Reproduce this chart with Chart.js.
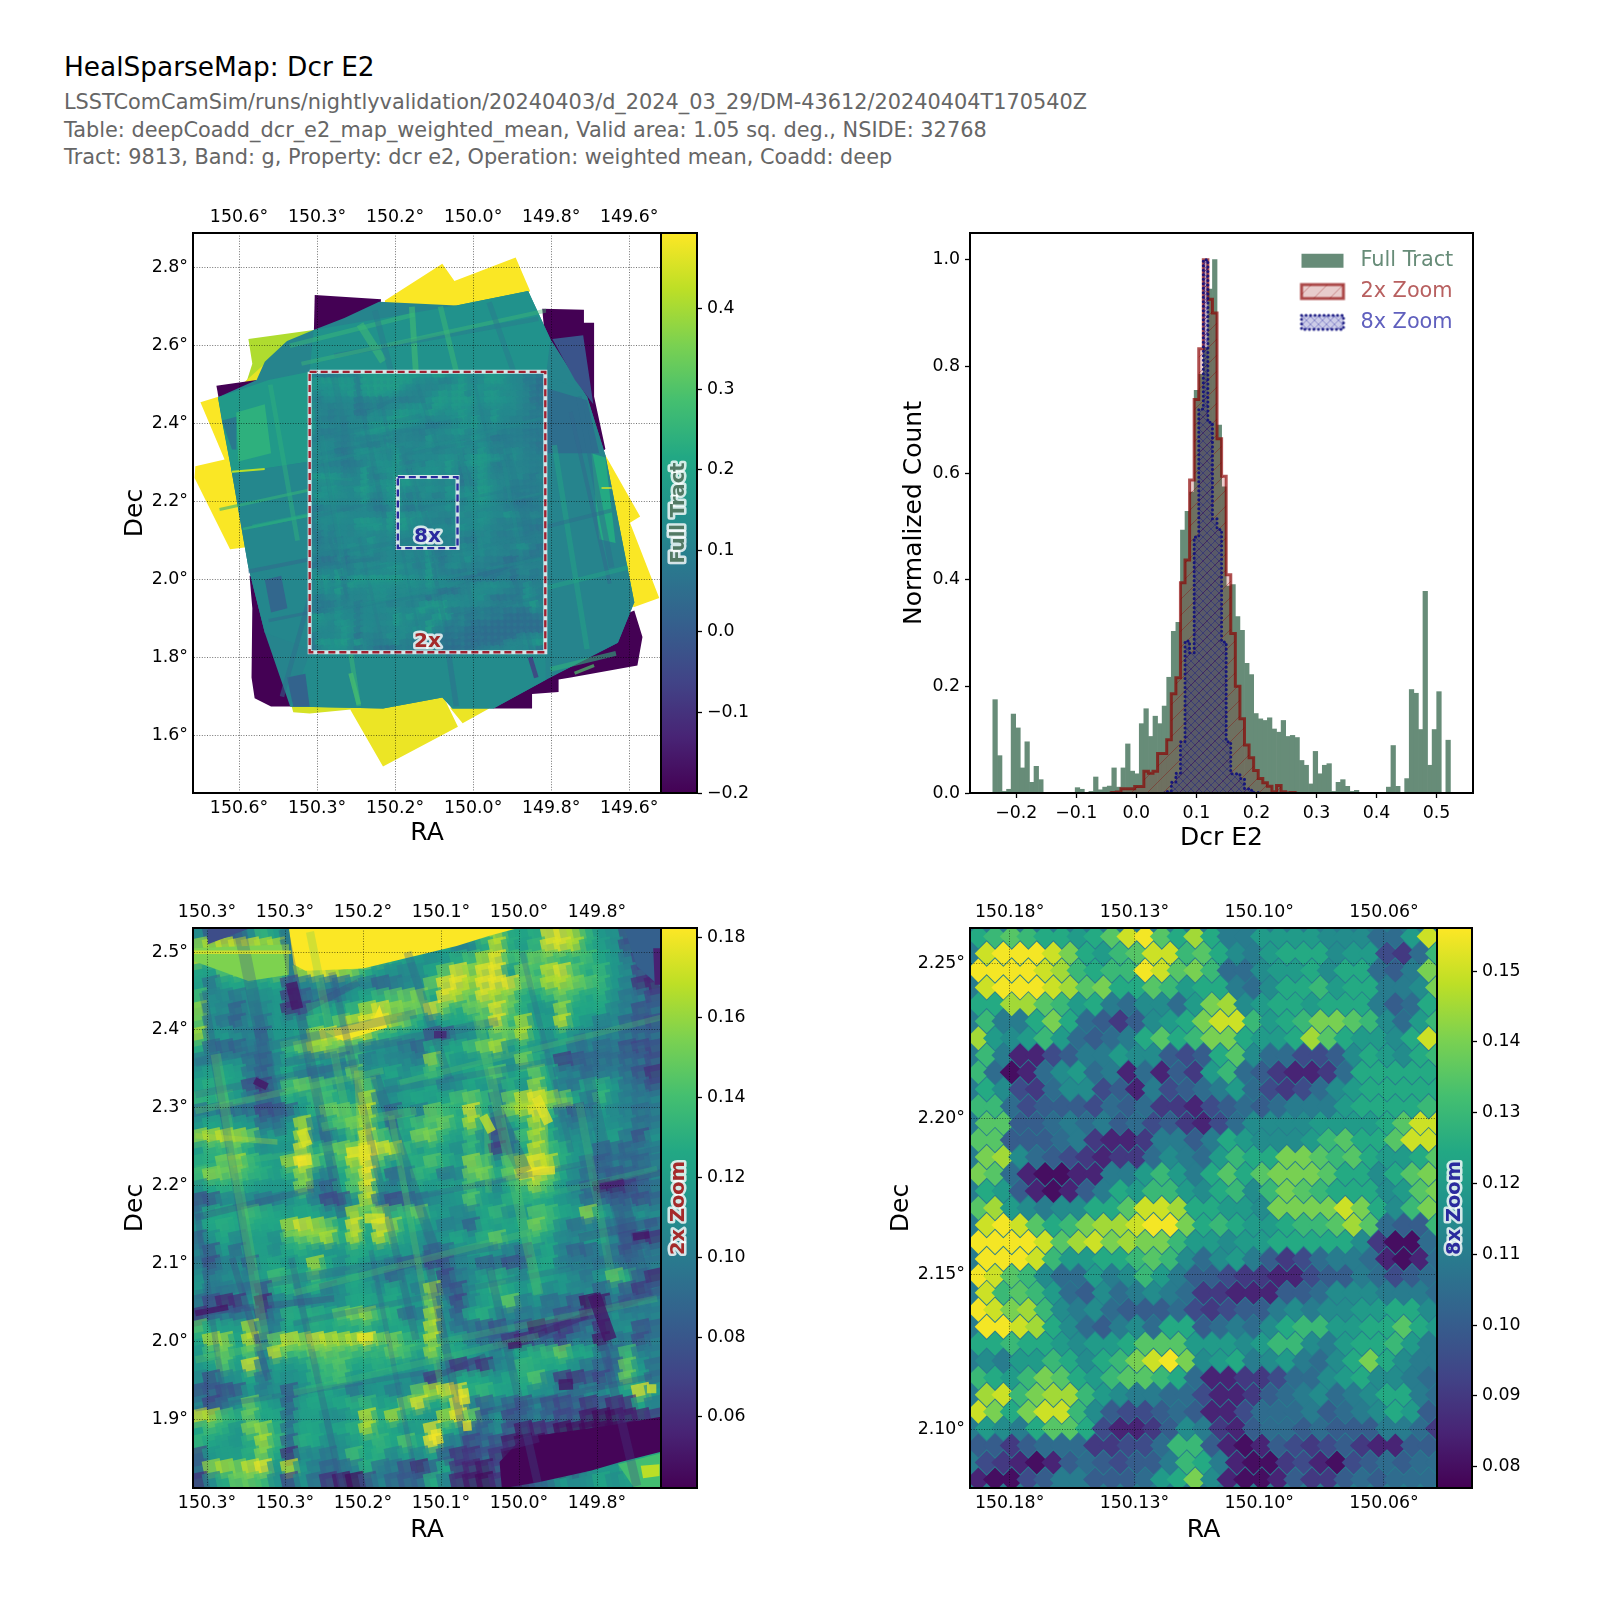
<!DOCTYPE html>
<html><head><meta charset="utf-8">
<script src="https://cdn.jsdelivr.net/npm/chart.js@4"></script>
<style>
html,body{margin:0;padding:0;background:#fff;width:1600px;height:1600px;overflow:hidden;font-family:"DejaVu Sans"}
canvas{position:absolute}
.t{position:absolute;left:64px;white-space:nowrap;line-height:28px;height:28px}
</style></head><body>
<div class="t" style="top:53px;font-size:26.4px;color:#000">HealSparseMap: Dcr E2</div>
<div class="t" style="top:88px;font-size:20.83px;color:#666">LSSTComCamSim/runs/nightlyvalidation/20240403/d_2024_03_29/DM-43612/20240404T170540Z</div>
<div class="t" style="top:115.5px;font-size:20.83px;color:#666">Table: deepCoadd_dcr_e2_map_weighted_mean, Valid area: 1.05 sq. deg., NSIDE: 32768</div>
<div class="t" style="top:143px;font-size:20.83px;color:#666">Tract: 9813, Band: g, Property: dcr e2, Operation: weighted mean, Coadd: deep</div>
<script>
// ---------- tick positions and tick labels ----------
const fullRaTicks=[150.55,150.35,150.15,149.95,149.75,149.55];
const fullRaLabels=['150.6°','150.3°','150.2°','150.0°','149.8°','149.6°'];
const fullDecTicks=[1.6,1.8,2.0,2.2,2.4,2.6,2.8];
const fullDecLabels=['1.6°','1.8°','2.0°','2.2°','2.4°','2.6°','2.8°'];
const zoom2RaTicks=[150.35,150.25,150.15,150.05,149.95,149.85];
const zoom2RaLabels=['150.3°','150.3°','150.2°','150.1°','150.0°','149.8°'];
const zoom2DecTicks=[1.9,2.0,2.1,2.2,2.3,2.4,2.5];
const zoom2DecLabels=['1.9°','2.0°','2.1°','2.2°','2.3°','2.4°','2.5°'];
const zoom8RaTicks=[150.175,150.135,150.095,150.055];
const zoom8RaLabels=['150.18°','150.13°','150.10°','150.06°'];
const zoom8DecTicks=[2.10,2.15,2.20,2.25];
const zoom8DecLabels=['2.10°','2.15°','2.20°','2.25°'];
const fullCbTicks=[-0.2,-0.1,0,0.1,0.2,0.3,0.4];
const zoom2CbTicks=[0.06,0.08,0.10,0.12,0.14,0.16,0.18];
const zoom8CbTicks=[0.08,0.09,0.10,0.11,0.12,0.13,0.14,0.15];
const histXTicks=[-0.2,-0.1,0,0.1,0.2,0.3,0.4,0.5];
const histYTicks=[0,0.2,0.4,0.6,0.8,1.0];
const histLabels=['Full Tract','2x Zoom','8x Zoom'];
// ---------- histogram series (100 bins) ----------
const binStart=-0.239, binWidth=0.00762;
const histFull=[.175,.07,.003,.007,.148,.122,.047,.096,.02,.05,.025,0,0,0,0,0,0,0,.01,.007,.001,.003,.03,.006,.011,.013,.047,.011,.047,.092,.041,.036,.13,.158,.106,.144,.13,.163,.217,.303,.32,.493,.528,.564,.755,.785,.835,.945,1,.69,.574,.388,.391,.331,.305,.243,.222,.149,.139,.136,.141,.12,.114,.136,.106,.108,.104,.061,.052,.017,.078,.036,.052,.055,.003,.02,.025,.0125,.003,.005,.001,.001,0,0,0,0,.011,.089,.0125,0,.027,.194,.187,.119,.378,.052,.119,.19,0,.099];
const hist2xFirstBin=25;
const hist2x=[0,.001,.002,.008,.008,.008,.012,.012,.041,.037,.041,.074,.074,.10,.186,.216,.394,.437,.587,.738,.833,1,.926,.9,.664,.594,.409,.299,.2,.139,.09,.066,.042,.027,.019,.0125,.0025,.014,.0025,0,.001,0];
const hist8xFirstBin=37;
const hist8x=[0,.003,.02,.037,.096,.285,.263,.48,.72,1,.695,.514,.494,.283,.096,.036,.036,.027,.008,.005,.001,0];
// ---------- full tract map: outlines [value, ra,dec, ra,dec, ...] ----------
const fullOuter=[
[.49,150.176,2.716,150.029,2.810,149.998,2.766,149.841,2.826,149.804,2.740,149.930,2.62,150.176,2.62],
[.41,150.526,2.617,150.359,2.640,150.30,2.60,150.427,2.50,150.484,2.45,150.531,2.507,150.516,2.554],
[.47,150.484,2.554,150.427,2.575,150.40,2.50,150.536,2.507],
[.49,150.649,2.455,150.601,2.470,150.50,2.40,150.45,2.10,150.531,2.083,150.573,2.078,150.664,2.261,150.662,2.291,150.587,2.308],
[.49,149.611,2.319,149.522,2.162,149.548,2.146,149.473,1.953,149.537,1.930,149.60,1.95,149.70,2.30],
[.475,150.270,1.686,150.27,1.75,150.02,1.75,150.024,1.696,149.989,1.623,150.181,1.521,150.264,1.665],
[.475,150.008,1.670,150.0,1.72,149.909,1.72,149.909,1.670,149.977,1.632],
[.45,150.416,1.678,150.41,1.72,150.264,1.72,150.264,1.667,150.369,1.657,150.411,1.660],
[-.2,150.356,2.730,150.186,2.719,150.2,2.6,150.359,2.60],
[-.2,149.773,2.695,149.666,2.692,149.666,2.659,149.640,2.659,149.640,2.470,149.611,2.335,149.65,2.30,149.75,2.45],
[-.2,150.608,2.497,150.505,2.512,150.50,2.42,150.594,2.42],
[-.2,149.600,1.895,149.537,1.921,149.516,1.853,149.529,1.780,149.700,1.749,149.731,1.744,149.731,1.712,149.799,1.707,149.799,1.670,149.898,1.670,149.90,1.75,149.70,1.87],
[-.2,150.523,2.010,150.516,1.927,150.518,1.749,150.510,1.696,150.468,1.675,150.38,1.675,150.38,1.80,150.45,2.0]
];
const fullInner=[
[.11,150.604,2.468,150.505,2.512,150.484,2.559,150.427,2.612,150.359,2.640,150.280,2.671,150.191,2.713,149.993,2.703,149.809,2.740,149.788,2.695,149.752,2.617,149.658,2.470,149.611,2.319,149.537,1.942,149.579,1.838,149.762,1.744,149.898,1.670,150.003,1.670,150.029,1.698,150.181,1.670,150.419,1.675,150.484,1.864,150.526,2.031,150.568,2.272,150.594,2.408],
[.17,150.604,2.468,150.474,2.512,150.369,2.533,150.369,2.303,150.568,2.272],
[.24,150.557,2.429,150.484,2.450,150.468,2.324,150.552,2.303],
[.08,150.594,2.408,150.557,2.418,150.557,2.334,150.568,2.334],
[.12,150.568,2.272,150.369,2.303,150.369,1.822,150.484,1.864,150.526,2.031],
[.15,150.359,2.640,149.993,2.703,149.809,2.740,149.752,2.617,149.762,2.533,150.369,2.533],
[.13,150.419,1.675,150.369,1.811,149.764,1.811,149.762,1.744,149.898,1.670,150.003,1.670,150.029,1.698,150.181,1.670],
[.11,149.764,2.533,149.658,2.470,149.611,2.319,149.537,1.942,149.579,1.838,149.764,1.744],
[.05,149.762,2.491,149.658,2.460,149.627,2.324,149.762,2.324],
[-.02,149.747,2.617,149.668,2.627,149.642,2.450,149.689,2.512],
[.03,150.484,2.000,150.442,2.010,150.426,1.927,150.468,1.916],
[.02,150.427,1.749,150.380,1.759,150.369,1.675,150.411,1.675],
[.22,149.647,2.324,149.611,2.313,149.585,2.094,149.627,2.104]
];
// full tract streaks beyond the 2x box: [ra0,dec0,ra1,dec1,width,value,alpha]
const fullStreaks=[
[150.568,2.277,150.484,2.284,.005,.42,1],[149.621,2.235,149.595,2.235,.004,.45,1],[149.804,1.801,149.788,1.749,.012,-.08,.8],
[150.107,2.700,150.097,2.533,.015,.28,.6],[150.240,2.655,150.180,2.560,.02,.28,.5],[150.264,1.760,150.243,1.680,.012,.3,.7],
[149.690,1.760,149.640,1.780,.008,.3,.7],[150.420,2.600,150.100,2.680,.012,.26,.5],[150.600,2.180,150.370,2.230,.008,.25,.6],
[150.540,2.130,150.370,2.165,.007,.25,.6],[150.470,2.500,150.400,2.100,.012,.24,.5],[149.700,2.430,149.600,1.990,.01,.03,.5],
[150.440,1.700,150.370,1.950,.012,.05,.5],[150.306,2.575,149.783,2.669,.012,.08,.5],[150.390,2.554,149.762,2.690,.0105,.28,.4],
[150.202,2.690,150.160,2.533,.015,.08,.5],[150.034,2.701,149.993,2.533,.014,.27,.5],[149.909,2.711,149.846,2.533,.014,.08,.5],
[150.264,1.811,150.243,1.676,.012,.27,.5],[150.013,1.811,149.993,1.676,.014,.05,.5],[149.679,2.470,149.595,2.031,.014,.05,.5],
[149.742,2.345,149.658,1.822,.014,.2,.5],[149.762,1.979,149.553,2.031,.012,.2,.5],[149.762,2.136,149.595,2.178,.01,.05,.5],
[149.752,1.770,149.584,1.811,.012,.24,.6],[150.516,2.136,150.369,2.167,.01,.22,.5],[150.526,2.021,150.369,2.052,.01,.03,.5],
[150.474,1.895,150.369,1.916,.008,.03,.5]
];
// ---------- 2x zoom map ----------
const base2x=[.118,150.368,2.531,149.768,2.531,149.768,1.811,150.368,1.811];
const patches2x=[
[.075,150.349,2.531,150.294,2.531,150.349,2.510],
[.155,150.368,2.505,150.245,2.510,150.245,2.471,150.297,2.463,150.368,2.489],
[.182,150.245,2.531,149.951,2.531,149.988,2.521,150.030,2.508,150.150,2.479,150.224,2.476,150.239,2.484],
[.085,149.815,2.531,149.768,2.531,149.768,2.455,149.799,2.482],
[.055,149.778,2.505,149.768,2.505,149.768,2.458,149.776,2.458],
[.18,150.199,2.398,150.137,2.413,150.129,2.432,150.119,2.403,150.176,2.386],
[.14,149.823,1.842,149.768,1.856,149.768,1.811,149.802,1.811],
[.168,149.794,1.840,149.770,1.842,149.770,1.827,149.791,1.824],
[.044,149.975,1.845,149.946,1.876,149.831,1.892,149.768,1.903,149.768,1.858,149.820,1.845,149.857,1.834,149.925,1.819,149.972,1.811]
];
// rows from the top, values in units of 0.001
const grid2x=[
[105,80,80,80,105,135,120,110,182,182,182,182,182,182,182,178,170,150,150,180,178,130,150,165,130,125,130,178,178,165,135,115,110,75,85,60],
[160,165,170,170,172,165,165,110,182,178,182,182,182,182,178,170,125,130,115,125,100,105,130,170,130,120,135,175,175,165,130,120,110,75,80,50],
[172,150,150,150,160,165,160,115,178,182,182,182,182,182,150,125,120,115,110,115,130,140,165,178,140,140,150,150,140,135,140,125,115,95,70,50],
[125,120,145,150,150,150,170,115,165,178,178,165,155,130,115,110,105,110,125,150,178,160,178,178,120,150,140,170,175,145,130,135,115,105,70,65],
[120,95,120,125,125,120,125,75,100,105,100,95,110,100,85,95,105,110,150,178,178,165,178,178,178,150,145,165,165,155,145,135,115,100,60,55],
[140,105,105,95,110,110,115,65,80,95,85,100,115,125,135,145,150,155,125,178,165,150,175,165,155,130,125,135,150,135,125,130,110,95,95,70],
[160,110,105,85,105,105,115,60,70,130,120,125,135,165,175,160,155,150,178,150,130,150,150,175,150,130,115,115,160,125,125,125,105,100,75,85],
[150,105,95,85,105,95,115,110,115,135,125,150,170,178,178,165,150,125,110,120,125,125,145,175,140,165,120,120,170,125,115,100,105,85,80,75],
[165,110,115,105,100,85,115,115,120,160,178,178,175,170,135,130,120,115,75,75,105,110,120,150,150,165,125,110,125,110,105,100,100,90,85,85],
[130,90,85,85,100,95,115,135,150,165,160,150,140,115,110,105,95,85,125,120,125,140,155,165,115,130,115,105,115,95,100,90,95,75,70,70],
[100,105,110,110,90,85,100,120,115,125,110,100,135,100,110,105,105,100,160,130,115,115,120,115,110,155,130,115,65,75,85,90,90,85,85,75],
[115,120,125,120,95,85,110,125,105,100,95,110,150,110,115,125,110,120,135,120,115,125,130,145,120,125,150,125,100,100,90,95,100,90,75,60],
[125,130,125,120,70,60,100,140,150,140,135,110,115,145,120,105,120,115,125,100,110,125,115,105,130,115,160,125,100,95,125,130,115,95,90,75],
[135,130,135,115,100,80,95,130,120,135,140,125,120,165,105,110,120,125,120,125,140,150,135,100,150,170,178,165,150,125,100,135,110,100,95,100],
[95,100,95,90,90,70,75,85,115,130,150,150,145,170,110,85,115,100,150,140,130,175,130,105,155,165,178,135,95,80,95,115,105,100,90,95],
[115,125,120,120,115,90,100,115,165,105,125,140,155,165,120,90,130,140,145,150,130,165,125,85,120,130,165,125,105,95,105,115,110,105,90,95],
[160,165,170,165,150,110,120,120,165,105,95,115,130,175,145,130,120,155,155,130,120,135,110,70,105,140,165,130,110,110,105,115,120,95,75,110],
[120,135,135,145,125,110,115,115,175,125,135,155,165,178,175,170,135,120,130,120,110,135,115,65,100,125,170,140,130,115,110,85,90,85,95,100],
[130,130,155,165,140,125,120,165,182,150,125,140,170,182,145,115,125,130,145,130,120,160,145,115,145,165,178,170,130,115,95,80,95,90,85,95],
[140,160,150,150,135,130,120,130,160,110,100,125,150,182,125,85,105,135,125,95,105,150,155,130,150,178,178,155,125,105,90,85,80,85,90,100],
[110,125,130,130,120,115,115,115,155,95,85,125,145,178,120,100,110,120,115,120,120,140,120,105,125,140,160,140,115,100,85,55,45,65,80,90],
[75,80,105,110,105,95,100,110,120,100,70,75,110,170,95,70,85,100,105,110,115,145,120,115,130,130,130,125,115,110,90,85,85,85,75,85],
[100,125,125,125,140,130,125,120,125,125,110,115,165,145,160,135,135,150,120,115,105,105,125,135,110,115,145,140,125,120,160,120,110,100,110,105],
[110,125,130,125,130,125,125,165,175,165,150,125,175,130,178,160,125,125,115,100,105,85,125,120,125,125,155,135,110,90,100,100,95,90,100,85],
[85,110,125,105,120,120,110,140,150,155,165,130,165,125,170,140,120,110,105,115,125,115,130,150,120,120,135,120,105,105,115,115,100,75,65,60],
[100,80,115,90,120,120,110,125,130,120,115,115,130,125,120,120,115,110,85,90,110,115,120,110,100,90,110,125,100,85,85,100,90,75,95,95],
[95,75,100,105,85,120,125,115,120,165,125,110,125,115,110,100,85,90,75,75,100,105,85,90,75,85,120,125,100,100,100,95,95,90,100,95],
[110,95,105,110,100,120,140,130,125,140,115,110,125,110,100,85,110,110,125,70,95,105,120,130,120,110,125,120,115,105,95,115,150,130,90,55],
[115,100,100,105,95,75,125,130,110,125,95,110,125,120,110,125,115,100,165,85,75,110,125,135,125,115,125,105,115,105,105,85,105,80,60,85],
[90,70,55,60,110,55,100,110,100,105,110,110,125,125,120,125,115,115,155,105,70,105,120,125,150,100,110,90,95,80,45,50,95,80,95,100],
[60,85,95,90,100,70,100,130,125,130,125,145,155,160,135,130,90,100,165,105,85,125,130,110,100,95,100,95,75,85,60,85,110,100,100,100],
[145,125,120,120,165,100,100,125,115,130,125,130,130,135,120,125,125,120,170,110,95,90,85,75,95,80,50,60,60,70,95,60,105,110,75,85],
[125,165,160,125,170,90,150,172,160,175,170,165,170,178,150,155,135,130,170,115,120,100,90,85,60,55,80,85,70,100,95,50,95,95,75,95],
[115,135,150,125,145,105,172,140,140,150,150,145,140,135,130,150,140,120,160,130,125,115,110,100,115,125,130,135,150,125,125,100,90,140,100,100],
[115,120,145,120,175,100,120,115,120,135,140,145,125,125,130,125,120,110,120,100,60,75,60,100,110,135,130,125,125,110,95,85,85,150,115,90],
[105,75,105,110,125,95,115,110,115,130,135,140,115,120,115,115,110,100,65,105,125,125,125,115,125,130,145,105,65,60,75,70,100,150,120,90],
[75,80,75,80,115,100,110,80,110,125,125,115,95,110,115,100,110,150,165,178,178,130,135,125,120,125,110,110,100,95,105,100,115,120,178,115],
[100,70,90,110,150,125,115,85,120,125,120,125,130,135,120,125,150,178,125,125,178,100,85,100,85,75,100,75,70,80,60,75,55,60,125,100],
[175,165,140,130,150,125,125,90,120,120,110,110,120,170,130,165,130,120,115,165,178,150,85,110,70,85,95,85,70,75,50,45,45,50,55,65],
[125,140,130,115,155,160,130,95,125,125,115,125,130,165,130,125,115,120,178,130,120,85,85,105,75,50,55,60,45,45,45,45,45,45,45,45],
[135,125,120,115,130,165,135,85,130,125,110,110,120,125,135,125,145,125,182,100,100,70,85,75,50,45,45,45,45,45,45,45,45,45,45,45],
[75,115,120,120,130,155,125,60,105,105,95,110,140,125,130,105,120,105,120,85,60,60,80,60,45,45,45,45,45,45,45,50,100,115,125,130],
[85,160,165,155,172,178,115,170,115,100,85,90,100,130,95,95,75,55,85,125,60,55,50,70,45,45,45,55,45,60,110,115,115,130,155,172],
[60,105,130,150,150,140,110,70,110,90,60,50,45,75,100,85,80,85,130,100,55,50,45,60,50,60,85,90,115,105,110,125,110,120,115,60]
];
const darkBands2x=[
[150.3075,2.526,150.255,2.264,.016,.08],[150.252,2.529,150.177,2.159,.013,.075],[150.190,2.474,150.082,2.002,.0095,.08],
[150.355,2.448,150.297,2.107,.0105,.08],[150.135,2.343,150.035,2.049,.013,.08],[150.093,2.500,150.040,2.337,.0105,.085],
[149.980,2.296,149.943,2.217,.02,.075],[149.873,2.395,149.815,2.128,.015,.085],[150.069,2.117,150.014,1.845,.0105,.07],
[149.857,2.060,149.799,1.814,.0115,.07],[149.825,2.201,149.789,2.055,.024,.075],[150.318,2.107,150.271,1.950,.0085,.07],
[149.946,2.500,149.883,2.243,.0075,.09],[150.365,2.180,150.328,1.924,.0075,.08],[149.988,2.096,149.925,1.813,.0105,.08],
[150.242,2.107,150.177,1.811,.0085,.08],[150.140,2.117,150.082,1.824,.0065,.085],
[150.365,2.358,150.082,2.421,.0115,.085],[150.224,2.427,150.156,2.461,.0095,.07],[150.250,2.358,149.977,2.411,.0115,.085],
[150.365,2.317,150.156,2.358,.0095,.085],[150.124,2.322,149.768,2.385,.0085,.09],[150.365,2.159,150.213,2.196,.0085,.075],
[150.135,2.175,149.768,2.248,.0075,.085],[150.365,2.060,149.977,2.123,.0115,.085],[150.365,2.036,150.187,2.055,.0085,.07],
[150.239,2.023,149.768,2.117,.0075,.09],[150.069,1.950,149.993,1.981,.0075,.06],[149.977,1.994,149.768,2.065,.0105,.07],
[150.0,1.908,149.78,1.955,.0075,.075],[150.365,1.913,150.072,1.960,.0065,.085],[149.873,2.133,149.773,2.154,.0115,.07],
[149.93,2.007,149.862,2.034,.0085,.05],[149.846,2.199,149.768,2.217,.0085,.065],[150.046,1.845,149.925,1.876,.0115,.07]
];
const brightBands2x=[
[150.156,2.348,150.148,2.201,.0115,.17],[150.229,2.290,150.218,2.196,.0105,.165],[149.920,2.327,149.917,2.217,.0115,.172],
[149.991,2.293,149.989,2.191,.0085,.15],[150.162,2.167,150.156,2.128,.0115,.172],[150.218,2.526,150.145,2.159,.0105,.15],
[150.339,2.369,150.276,2.002,.013,.15],[150.114,2.290,150.040,1.887,.0085,.15],[150.004,2.421,149.925,2.060,.013,.15],
[149.873,2.306,149.831,2.081,.0105,.14],[150.365,2.296,150.124,2.348,.0085,.15],[150.103,2.332,149.768,2.416,.0075,.145],
[150.365,2.264,150.260,2.256,.007,.17],[150.252,2.137,150.182,2.144,.0075,.165],[150.239,2.062,149.925,2.143,.0085,.145],
[150.255,1.992,150.124,2.005,.0115,.16],[150.365,1.976,150.260,1.997,.0095,.15],[150.093,1.926,150.030,1.933,.0095,.165],
[149.962,2.302,149.881,2.308,.0115,.165],[150.365,2.222,150.156,2.254,.0075,.14],[150.140,1.981,149.773,2.055,.0085,.14],
[150.239,1.934,149.925,2.007,.0085,.14],[149.951,2.180,149.773,2.222,.0075,.135],[150.203,2.275,150.082,2.296,.0115,.15]
];
const spots2x=[
[150.242,2.461,150.234,2.427,.015,.05],[150.289,2.335,150.273,2.327,.0095,.05],[150.059,2.394,150.043,2.394,.0095,.055],
[149.854,2.060,149.833,2.002,.017,.05],[149.804,2.134,149.783,2.137,.0095,.05],[149.846,2.199,149.815,2.204,.0085,.055],
[149.964,1.994,149.947,1.996,.0085,.05],[149.899,1.944,149.881,1.945,.014,.05],[150.323,2.044,150.365,2.036,.0075,.05],
[150.171,2.242,150.140,2.246,.0135,.178],[150.234,2.231,150.216,2.233,.0125,.18],[150.229,2.272,150.221,2.251,.0135,.175],
[149.928,2.314,149.912,2.280,.0125,.178],[149.933,2.218,149.904,2.220,.0105,.18],[149.996,2.290,149.985,2.269,.0115,.172],
[150.148,2.158,150.122,2.158,.0125,.175],[150.158,2.005,150.137,2.006,.0105,.178],[150.022,1.939,150.019,1.919,.0135,.178],
[150.022,1.891,150.011,1.892,.0135,.178],[150.057,1.887,150.053,1.868,.0135,.18],[149.786,1.939,149.774,1.939,.0115,.175],
[150.368,2.500,150.242,2.500,.0045,.178]
];
// ---------- 8x zoom map: rows from top, values in units of 0.001 ----------
const grid8x=[
[125,130,135,130,125,125,120,125,135,150,155,135,125,145,125,110,110,120,120,120,120,115,115,115,105,105,120,150],
[150,155,155,155,150,140,125,120,130,135,150,150,130,135,125,115,110,120,125,125,125,115,120,120,95,90,105,130],
[155,155,155,155,150,145,130,125,130,130,155,150,135,140,130,105,105,115,120,120,125,115,125,125,105,100,110,140],
[150,155,155,155,150,145,135,140,125,125,135,130,120,125,125,110,105,115,125,125,130,120,125,125,110,110,115,140],
[125,125,145,145,135,130,120,125,110,105,115,115,105,120,140,145,115,120,125,125,120,125,125,125,110,100,105,125],
[130,110,110,125,140,125,105,100,90,100,115,120,125,140,150,150,130,120,125,130,140,140,135,130,115,105,120,130],
[145,120,115,120,130,120,105,100,105,110,125,135,125,130,140,140,125,120,120,125,145,135,125,120,120,115,125,150],
[130,110,85,85,95,100,110,110,120,115,115,100,95,100,125,135,115,105,105,95,95,100,115,125,120,115,125,130],
[130,105,80,85,105,115,120,105,110,85,105,85,100,90,120,130,105,100,90,85,85,90,105,125,125,125,125,125],
[125,115,95,90,105,115,115,95,100,85,110,95,100,105,110,120,105,95,90,95,105,115,120,125,125,125,125,125],
[130,130,105,95,100,100,100,95,105,100,105,90,90,85,95,100,105,100,105,110,110,110,120,125,125,125,125,130],
[135,135,100,100,105,110,105,110,100,105,95,100,90,85,95,105,115,115,115,115,120,120,120,120,125,135,150,150],
[135,135,100,100,100,105,110,90,85,85,90,110,110,100,110,125,120,115,115,115,120,130,135,125,125,135,150,150],
[140,145,115,105,100,95,90,85,90,90,105,115,110,105,120,130,125,125,140,140,135,130,135,125,120,120,125,135],
[140,135,105,85,80,80,85,85,110,110,120,130,120,110,125,135,125,135,140,140,140,135,125,125,115,125,135,140],
[125,120,100,85,80,85,100,110,125,120,130,130,120,115,125,130,115,130,140,135,130,125,125,125,115,120,135,140],
[135,145,120,115,110,115,115,125,125,135,150,150,145,125,125,120,120,115,140,140,140,140,150,140,125,115,130,140],
[150,155,150,135,125,130,140,145,145,150,155,155,140,125,130,125,120,120,125,130,130,135,145,135,105,100,100,130],
[155,155,155,155,150,135,145,150,140,145,140,140,130,120,120,115,120,120,125,125,125,125,125,115,90,80,80,105],
[155,155,155,150,130,120,120,125,125,130,135,130,115,105,115,120,110,100,90,95,105,110,110,105,85,80,85,105],
[155,150,135,130,115,105,105,120,110,115,130,120,110,100,100,95,90,90,85,85,95,100,100,110,105,95,100,105],
[150,130,135,130,120,105,100,115,105,110,115,110,105,90,90,85,85,85,100,100,105,115,115,115,110,110,110,105],
[155,150,140,145,130,115,110,115,105,100,100,100,105,95,90,95,100,100,110,115,110,115,115,120,120,125,125,115],
[155,155,150,145,125,115,105,100,110,115,105,125,125,100,105,110,105,115,125,130,130,120,120,125,125,135,125,120],
[125,125,130,125,125,120,115,120,120,125,135,135,135,120,120,120,115,120,130,130,115,110,120,125,125,130,120,110],
[115,110,120,120,130,125,115,125,130,140,150,155,140,115,120,125,110,115,120,110,105,115,125,140,125,115,110,110],
[130,125,120,130,140,135,125,120,130,135,135,130,125,105,85,85,90,90,95,105,105,115,120,125,115,115,110,105],
[145,150,130,140,145,145,130,120,115,110,110,105,105,95,85,85,90,100,105,110,115,105,110,115,125,125,110,105],
[150,140,125,140,150,150,130,115,100,95,95,100,105,100,85,85,95,105,105,105,110,100,105,110,115,125,120,100],
[120,115,110,125,135,135,125,95,85,85,90,100,115,110,90,85,100,105,105,100,105,100,100,100,110,110,105,90],
[100,100,90,100,105,105,105,90,90,95,95,105,130,130,100,85,80,85,100,95,90,95,100,90,85,85,100,100],
[95,90,85,80,85,100,105,100,95,100,100,110,130,125,110,85,80,80,90,95,85,80,95,100,105,100,105,105],
[85,80,80,95,100,110,110,100,100,100,105,120,125,140,115,85,80,80,85,100,90,90,100,105,100,105,105,105]
];
// ---------- boxes shown on the full map ----------
const box2x=[150.369,2.533,149.765,2.533,149.765,1.814,150.369,1.814,150.369,2.533];
const box8x=[150.143,2.263,149.990,2.263,149.990,2.081,150.143,2.081,150.143,2.263];
// ---------- viridis ----------
const viridis=[[68,1,84],[72,36,117],[65,68,135],[53,95,141],[42,120,142],[33,145,140],[34,168,132],[68,191,112],[122,209,81],[189,223,38],[253,231,37]];

function cmap(v,lo,hi,a){
  let t=Math.max(0,Math.min(1,(v-lo)/(hi-lo)))*10,i=Math.min(9,Math.floor(t)),f=t-i;
  const c=viridis[i].map((q,k)=>Math.round(q+(viridis[i+1][k]-q)*f));
  return `rgba(${c[0]},${c[1]},${c[2]},${a===undefined?1:a})`;
}
Chart.defaults.font.family='"DejaVu Sans"';
Chart.defaults.font.size=17.36;
Chart.defaults.color='#000';
Chart.defaults.animation=false;
Chart.defaults.events=[];
Chart.defaults.plugins.tooltip.enabled=false;
Chart.defaults.plugins.legend.display=false;
Chart.defaults.layout.autoPadding=false;

const TICK={size:17.36}, LABEL={size:25};
function mk(L,T,W,H){const c=document.createElement('canvas');c.width=W;c.height=H;c.style.left=L+'px';c.style.top=T+'px';document.body.appendChild(c);return c;}
function pad(n,axis){return s=>{if(axis==='h')s.height=n;else s.width=n;s.paddingLeft=s.paddingRight=s.paddingTop=s.paddingBottom=0;};}
function polyDs(v,xy,lo,hi,a,i){
  const data=[];for(let k=0;k<xy.length;k+=2)data.push({x:xy[k],y:xy[k+1]});data.push(data[0]);
  return {type:'scatter',showLine:true,fill:'shape',data,backgroundColor:cmap(v,lo,hi,a),borderWidth:0,borderColor:'transparent',pointRadius:0,order:-i};
}
function bandPoly(b){
  const [a0,d0,a1,d1,w]=b;const dx=a1-a0,dy=d1-d0,l=Math.hypot(dx,dy)||1,nx=-dy/l*w/2,ny=dx/l*w/2;
  return [a0+nx,d0+ny,a1+nx,d1+ny,a1-nx,d1-ny,a0-nx,d0-ny];
}
function addPatches(out,list,lo,hi){list.forEach(p=>out.push(polyDs(p[0],p.slice(1),lo,hi,1,out.length)));}
function addBands(out,list,lo,hi,alpha){list.forEach(b=>out.push(polyDs(b[5],bandPoly(b),lo,hi,alpha===undefined?b[6]:alpha,out.length)));}
function addGrid2x(out,lo,hi,radius,alpha){
  const xmin=149.768,xmax=150.368,ymin=1.8115,ymax=2.531,rows=grid2x.length,cols=grid2x[0].length,pts=[],colors=[];
  grid2x.forEach((r,j)=>r.forEach((v,i)=>{pts.push({x:xmax-(xmax-xmin)*(i+.5)/cols,y:ymax-(ymax-ymin)*(j+.5)/rows});colors.push(cmap(v/1000,lo,hi,alpha));}));
  out.push({type:'scatter',data:pts,pointStyle:'rect',pointRotation:-12,pointRadius:radius,pointBorderWidth:0,pointBackgroundColor:colors,showLine:false,order:-out.length});
}
function mapScales(o){
  const gridOn={z:1,color:'rgba(0,0,0,.55)',lineWidth:1,drawTicks:false};
  const bord={display:true,width:2,color:'#000',z:2,dash:[1,1.6]};
  const tk=(lab)=>({callback:(v,i)=>lab[i],padding:5,autoSkip:false,maxRotation:0,minRotation:0,font:TICK,color:'#000'});
  return {
    x:{type:'linear',reverse:true,position:'bottom',min:o.xmin,max:o.xmax,afterBuildTicks:s=>{s.ticks=o.xt.map(v=>({value:v}));},ticks:tk(o.xl),grid:gridOn,border:bord,title:{display:true,text:'RA',font:LABEL,color:'#000',padding:0},afterFit:pad(o.padB,'h')},
    x2:{type:'linear',reverse:true,position:'top',min:o.xmin,max:o.xmax,afterBuildTicks:s=>{s.ticks=o.xt.map(v=>({value:v}));},ticks:tk(o.xl),grid:{display:false,drawTicks:false},border:{display:true,width:2,color:'#000',z:2},afterFit:pad(o.padT,'h')},
    y:{type:'linear',position:'left',min:o.ymin,max:o.ymax,afterBuildTicks:s=>{s.ticks=o.yt.map(v=>({value:v}));},ticks:tk(o.yl),grid:gridOn,border:bord,title:{display:true,text:'Dec',font:LABEL,color:'#000',padding:0},afterFit:pad(o.padL,'v')},
    y2:{type:'linear',position:'right',min:o.ymin,max:o.ymax,ticks:{display:false},grid:{display:false},border:{display:true,width:2,color:'#000',z:2},afterFit:pad(2,'v')}
  };
}
function boxDs(xy,color,i,dash,w){
  const data=[];for(let k=0;k<xy.length;k+=2)data.push({x:xy[k],y:xy[k+1]});
  return {type:'scatter',showLine:true,fill:false,data,borderColor:color,borderWidth:w,borderDash:dash,pointRadius:0,order:-i};
}
const outlineText=(text,x,y,font,color,rot,ctx)=>{
  ctx.save();ctx.translate(x,y);if(rot)ctx.rotate(rot);ctx.font=font;ctx.textAlign='center';ctx.textBaseline='middle';
  ctx.lineJoin='round';ctx.lineWidth=5;ctx.strokeStyle='rgba(255,255,255,.8)';ctx.strokeText(text,0,0);ctx.fillStyle=color;ctx.fillText(text,0,0);ctx.restore();
};
function colorbar(L,R,T,B,lo,hi,ticks,dec,text,color){
  const pt=12,W=R-L+70,c=mk(L-2,T-pt,W+2,B-T+2*pt);
  new Chart(c,{type:'bar',
    data:{labels:[''],datasets:[{data:[[lo,hi]],barPercentage:1,categoryPercentage:1,borderWidth:0,
      backgroundColor:ctx=>{const a=ctx.chart.chartArea;if(!a)return '#21918c';const g=ctx.chart.ctx.createLinearGradient(0,a.bottom,0,a.top);viridis.forEach((q,i)=>g.addColorStop(i/10,`rgb(${q})`));return g;}}]},
    options:{responsive:false,devicePixelRatio:1,
      scales:{
        x:{type:'category',position:'bottom',ticks:{display:false},grid:{display:false},border:{display:true,width:2,color:'#000',z:2},afterFit:pad(pt,'h')},
        x2:{type:'category',labels:[''],position:'top',ticks:{display:false},grid:{display:false},border:{display:true,width:2,color:'#000',z:2},afterFit:pad(pt,'h')},
        y2:{type:'linear',position:'left',min:lo,max:hi,ticks:{display:false},grid:{display:false},border:{display:true,width:2,color:'#000',z:2},afterFit:pad(2,'v')},
        y:{type:'linear',position:'right',min:lo,max:hi,afterBuildTicks:s=>{s.ticks=ticks.map(v=>({value:v}));},
           ticks:{callback:v=>v.toFixed(dec).replace('-','\u2212'),padding:5,font:TICK,color:'#000',autoSkip:false,maxRotation:0,minRotation:0},
           grid:{drawOnChartArea:false,drawTicks:true,tickLength:5,tickWidth:1.3,tickColor:'#000',color:'#000'},border:{display:true,width:2,color:'#000',z:2},afterFit:pad(W-(R-L),'v')}
      }},
    plugins:[{id:'cbText',afterDraw(ch){const a=ch.chartArea;outlineText(text,(a.left+a.right)/2,(a.top+a.bottom)/2,'bold 19.44px "DejaVu Sans"',color,-Math.PI/2,ch.ctx);}}]
  });
}

// ---------- panel 1: full tract ----------
(function(){
  const L=193,R=661,T=232.5,B=793,lo=-0.2,hi=0.4934,padL=73,padT=32,padB=55;
  const ds=[];
  addPatches(ds,fullOuter,lo,hi);addPatches(ds,fullInner,lo,hi);addBands(ds,fullStreaks,lo,hi);
  ds.push(polyDs(base2x[0],base2x.slice(1),lo,hi,1,ds.length));
  addGrid2x(ds,lo,hi,6.6,.7);
  addBands(ds,darkBands2x,lo,hi,.3);addBands(ds,brightBands2x,lo,hi,.3);
  ds.push(boxDs(box2x,'rgba(255,255,255,.8)',ds.length,[],4));
  ds.push(boxDs(box2x,'#a02030',ds.length,[7,4],2.4));
  ds.push(boxDs(box8x,'rgba(255,255,255,.8)',ds.length,[],4));
  ds.push(boxDs(box8x,'#2a2a9e',ds.length,[7,4],2.4));
  const c=mk(L-padL,T-padT,R-L+padL+2,B-T+padT+padB);
  new Chart(c,{type:'scatter',data:{datasets:ds},options:{responsive:false,devicePixelRatio:1,
    scales:mapScales({xmin:149.4685,xmax:150.668,ymin:1.453,ymax:2.889,xt:fullRaTicks,xl:fullRaLabels,yt:fullDecTicks,yl:fullDecLabels,padL,padT,padB})},
    plugins:[{id:'tags',afterDraw(ch){const x=ch.scales.x,y=ch.scales.y;
      outlineText('2x',x.getPixelForValue(150.067),y.getPixelForValue(1.841),'bold 20px "DejaVu Sans"','#a52a2a',0,ch.ctx);
      outlineText('8x',x.getPixelForValue(150.067),y.getPixelForValue(2.110),'bold 20px "DejaVu Sans"','#2a2a9e',0,ch.ctx);}}]
  });
  colorbar(R,697,T,B,lo,hi,fullCbTicks,1,'Full Tract','#527a64');
})();

// ---------- panel 2: histogram ----------
(function(){
  const L=969.5,R=1472.5,T=232.5,B=793,padL=71,padT=8,padB=60;
  const binX=i=>binStart+binWidth*(i+.5);
  const series=(arr,first)=>arr.map((v,i)=>({x:binX(i+first),y:v}));
  function hatch(fill,line,spacing,both){
    const t=document.createElement('canvas');t.width=t.height=spacing;const g=t.getContext('2d');
    g.fillStyle=fill;g.fillRect(0,0,spacing,spacing);g.strokeStyle=line;g.lineWidth=1;
    const seg=(a,b,c2,d)=>{g.beginPath();g.moveTo(a,b);g.lineTo(c2,d);g.stroke();};
    seg(-1,spacing+1,spacing+1,-1);
    if(both)seg(-1,-1,spacing+1,spacing+1);
    return g.createPattern(t,'repeat');
  }
  const pat2=hatch('rgba(139,0,0,.2)','rgba(139,0,0,.35)',16,false);
  const pat8=hatch('rgba(0,0,139,.2)','rgba(0,0,139,.32)',8,true);
  const green='rgb(103,140,120)', red='rgba(139,0,0,.68)', navy='rgba(15,15,125,.9)';
  function swatch(fill,stroke,lw,dash){
    const s=document.createElement('canvas');s.width=48;s.height=20;const g=s.getContext('2d');
    g.fillStyle=fill;g.fillRect(3,3,42,14);
    if(lw){g.strokeStyle=stroke;g.lineWidth=lw;g.setLineDash(dash);g.lineCap=dash.length?'round':'butt';g.strokeRect(3,3,42,14);}
    return s;
  }
  const c=mk(L-padL,T-padT,R-L+padL+4,B-T+padT+padB);
  new Chart(c,{type:'bar',data:{datasets:[
     {type:'bar',label:histLabels[0],data:series(histFull,0),backgroundColor:green,borderWidth:0,barPercentage:1,categoryPercentage:1,order:3},
     {type:'line',label:histLabels[1],data:series(hist2x,hist2xFirstBin),stepped:'middle',fill:'origin',backgroundColor:pat2,borderColor:red,borderWidth:3,pointRadius:0,order:2},
     {type:'line',label:histLabels[2],data:series(hist8x,hist8xFirstBin),stepped:'middle',fill:'origin',backgroundColor:pat8,borderColor:navy,borderWidth:3,borderDash:[.1,4.4],borderCapStyle:'round',pointRadius:0,order:1}
    ]},
    options:{responsive:false,devicePixelRatio:1,
     plugins:{legend:{display:true,position:'chartArea',align:'start',labels:{usePointStyle:true,pointStyleWidth:55,boxWidth:55,padding:10,font:{size:20.83},
       generateLabels:()=>[
        {text:histLabels[0],pointStyle:swatch(green,green,0,[]),fontColor:green,datasetIndex:0,lineWidth:0},
        {text:histLabels[1],pointStyle:swatch(pat2,red,3,[]),fontColor:'rgb(184,96,96)',datasetIndex:1,lineWidth:0},
        {text:histLabels[2],pointStyle:swatch(pat8,navy,3,[.1,4.4]),fontColor:'rgb(96,96,190)',datasetIndex:2,lineWidth:0}
       ]}}},
     scales:{
      x:{type:'linear',position:'bottom',offset:false,min:-0.277,max:0.5606,afterBuildTicks:s=>{s.ticks=histXTicks.map(v=>({value:v}));},
         ticks:{callback:v=>v.toFixed(1).replace('-','\u2212'),font:TICK,padding:5,color:'#000',autoSkip:false,maxRotation:0,minRotation:0},
         grid:{drawOnChartArea:false,drawTicks:true,tickLength:5,tickWidth:1.3,tickColor:'#000',offset:false},border:{display:true,width:2,color:'#000',z:2},
         title:{display:true,text:'Dcr E2',font:LABEL,color:'#000',padding:0},afterFit:pad(padB,'h')},
      x2:{type:'linear',position:'top',offset:false,min:-0.277,max:0.5606,ticks:{display:false},grid:{display:false},border:{display:true,width:2,color:'#000',z:2},afterFit:pad(padT,'h')},
      y:{type:'linear',position:'left',min:0,max:1.05,afterBuildTicks:s=>{s.ticks=histYTicks.map(v=>({value:v}));},
         ticks:{callback:v=>v.toFixed(1),font:TICK,padding:5,color:'#000',autoSkip:false},
         grid:{drawOnChartArea:false,drawTicks:true,tickLength:5,tickWidth:1.3,tickColor:'#000'},border:{display:true,width:2,color:'#000',z:2},
         title:{display:true,text:'Normalized Count',font:LABEL,color:'#000',padding:0},afterFit:pad(padL,'v')},
      y2:{type:'linear',position:'right',min:0,max:1.05,ticks:{display:false},grid:{display:false},border:{display:true,width:2,color:'#000',z:2},afterFit:pad(4,'v')}
     }},
    plugins:[{id:'legendPlace',beforeDraw(ch){const l=ch.legend;if(!l)return;l.left=1294.5-(L-padL)-10;l.top=260.2-(T-padT)-10.4-10;l.right=ch.width;l.bottom=ch.height;}}]
  });
})();

// ---------- panel 3: 2x zoom ----------
(function(){
  const L=193,R=661,T=927.5,B=1488,lo=0.0422,hi=0.1825,padL=73,padT=32,padB=57;
  const ds=[];
  ds.push(polyDs(base2x[0],base2x.slice(1),lo,hi,1,0));
  addGrid2x(ds,lo,hi,13,.7);
  addPatches(ds,patches2x,lo,hi);
  addBands(ds,darkBands2x,lo,hi,.3);addBands(ds,brightBands2x,lo,hi,.28);
  spots2x.forEach(b=>ds.push(polyDs(b[5],bandPoly(b),lo,hi,.75,ds.length)));
  const c=mk(L-padL,T-padT,R-L+padL+2,B-T+padT+padB);
  new Chart(c,{type:'scatter',data:{datasets:ds},options:{responsive:false,devicePixelRatio:1,
    scales:mapScales({xmin:149.768,xmax:150.368,ymin:1.8115,ymax:2.531,xt:zoom2RaTicks,xl:zoom2RaLabels,yt:zoom2DecTicks,yl:zoom2DecLabels,padL,padT,padB})}});
  colorbar(R,697,T,B,lo,hi,zoom2CbTicks,2,'2x Zoom','#a52a2a');
})();

// ---------- panel 4: 8x zoom ----------
(function(){
  const L=969.5,R=1437,T=927.5,B=1488,lo=0.077,hi=0.1561,padL=84,padT=32,padB=57;
  const xmin=150.038,xmax=150.1877,ymin=2.0812,ymax=2.2614;
  const rows=grid8x.length,cols=grid8x[0].length;
  const pts=[],colors=[];
  grid8x.forEach((r,j)=>r.forEach((v,i)=>{
    pts.push({x:xmax-(xmax-xmin)*(i+.5+(j%2?.5:0))/cols,y:ymax-(ymax-ymin)*(j+.5)/rows});
    colors.push(cmap(v/1000,lo,hi));
  }));
  const ds=[polyDs(.11,[xmax,ymax,xmin,ymax,xmin,ymin,xmax,ymin],lo,hi,1,0),
    {type:'scatter',data:pts,pointStyle:'rectRot',pointRadius:12,pointBorderWidth:0,pointBackgroundColor:colors,showLine:false,order:-1}];
  const c=mk(L-padL,T-padT,R-L+padL+2,B-T+padT+padB);
  new Chart(c,{type:'scatter',data:{datasets:ds},options:{responsive:false,devicePixelRatio:1,
    scales:mapScales({xmin,xmax,ymin,ymax,xt:zoom8RaTicks,xl:zoom8RaLabels,yt:zoom8DecTicks,yl:zoom8DecLabels,padL,padT,padB})}});
  colorbar(R,1472.5,T,B,lo,hi,zoom8CbTicks,2,'8x Zoom','#2a2a9e');
})();
</script>
</body></html>
